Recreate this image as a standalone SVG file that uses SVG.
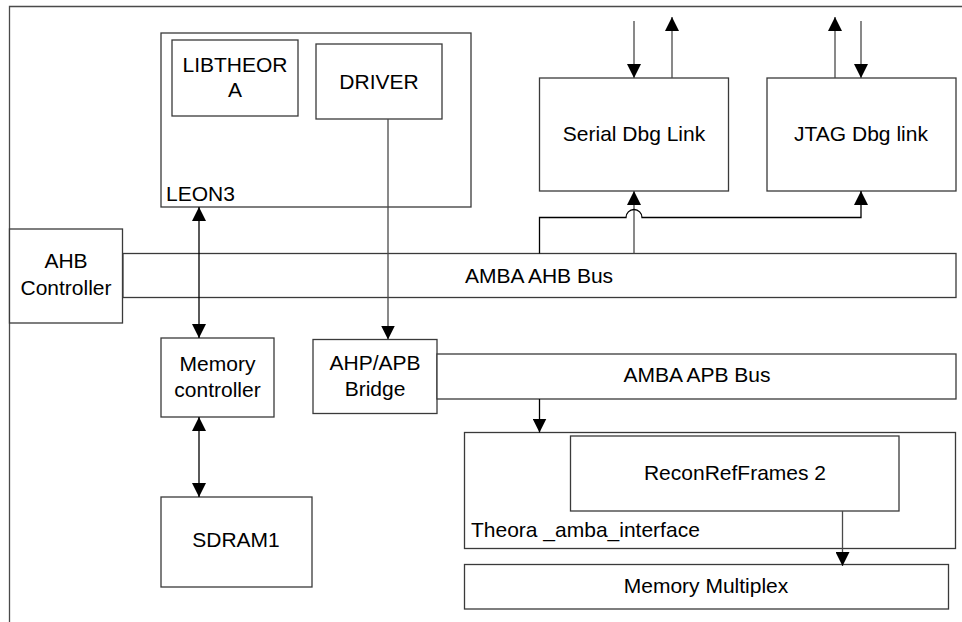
<svg xmlns="http://www.w3.org/2000/svg" width="962" height="622" viewBox="0 0 962 622">
<style>
.box{fill:#fff;stroke:#3a3a3a;stroke-width:1.3}
.t{font-family:"Liberation Sans",Arial,sans-serif;font-size:21px;fill:#000}
.c{text-anchor:middle}
.ln{fill:none;stroke:#000;stroke-width:1.3}
.lg{fill:none;stroke:#4a4a4a;stroke-width:1.3}
</style>
<defs>
<marker id="ah" markerUnits="userSpaceOnUse" markerWidth="14" markerHeight="14" refX="14" refY="7" orient="auto-start-reverse" viewBox="0 0 14 14">
<path d="M0,0 L14,7 L0,14 z" fill="#000"/>
</marker>
</defs>
<rect width="962" height="622" fill="#fff"/>
<g id="frame"><path class="lg" d="M9.5,622 V6.5 H962"/></g>

<g id="leon3">
<rect class="box" x="161" y="33" width="310" height="174"/>
<text class="t" x="166" y="201">LEON3</text>
</g>
<g id="libtheora">
<rect class="box" x="172" y="40" width="126" height="76"/>
<text class="t c" x="235" y="72">LIBTHEOR</text>
<text class="t c" x="235" y="97">A</text>
</g>
<g id="driver">
<rect class="box" x="316" y="44" width="126" height="75"/>
<text class="t c" x="379" y="89">DRIVER</text>
</g>
<g id="ahbctrl">
<rect class="box" x="9.5" y="229" width="113" height="94"/>
<text class="t c" x="66" y="268">AHB</text>
<text class="t c" x="66" y="295">Controller</text>
</g>
<g id="ahbbus">
<rect class="box" x="123" y="253.5" width="833" height="44"/>
<text class="t c" x="539" y="283">AMBA AHB Bus</text>
</g>
<g id="serial">
<rect class="box" x="539.5" y="78" width="189" height="113"/>
<text class="t c" x="634" y="141">Serial Dbg Link</text>
</g>
<g id="jtag">
<rect class="box" x="767" y="78" width="189" height="113"/>
<text class="t c" x="861" y="141">JTAG Dbg link</text>
</g>
<g id="memctrl">
<rect class="box" x="161" y="338" width="113" height="79"/>
<text class="t c" x="217.5" y="371">Memory</text>
<text class="t c" x="217.5" y="397">controller</text>
</g>
<g id="bridge">
<rect class="box" x="313" y="339.5" width="124" height="74"/>
<text class="t c" x="375" y="370">AHP/APB</text>
<text class="t c" x="375" y="396">Bridge</text>
</g>
<g id="apbbus">
<rect class="box" x="437" y="354" width="519" height="45"/>
<text class="t c" x="697" y="382">AMBA APB Bus</text>
</g>
<g id="sdram1">
<rect class="box" x="161" y="497" width="151" height="90"/>
<text class="t c" x="236" y="547">SDRAM1</text>
</g>
<g id="theora">
<rect class="box" x="464.5" y="432.5" width="491" height="116"/>
<text class="t" x="471" y="537">Theora _amba_interface</text>
</g>
<g id="reconref">
<rect class="box" x="570.5" y="436" width="328.5" height="75"/>
<text class="t c" x="735" y="480">ReconRefFrames 2</text>
</g>
<g id="memmux">
<rect class="box" x="464.5" y="564.5" width="484" height="44.5"/>
<text class="t c" x="706" y="593">Memory Multiplex</text>
</g>

<g id="connectors">
<path class="ln" d="M199,207 V338" marker-start="url(#ah)" marker-end="url(#ah)"/>
<path class="ln" d="M199,417 V497" marker-start="url(#ah)" marker-end="url(#ah)"/>
<path class="lg" d="M388,119 V339.5" marker-end="url(#ah)"/>
<path class="ln" d="M539.5,399 V432.5" marker-end="url(#ah)"/>
<path class="lg" d="M842.5,511 V566" marker-end="url(#ah)"/>
<path class="lg" d="M634,21 V78" marker-end="url(#ah)"/>
<path class="lg" d="M672,78 V17" marker-end="url(#ah)"/>
<path class="lg" d="M835,78 V17" marker-end="url(#ah)"/>
<path class="lg" d="M861,21 V78" marker-end="url(#ah)"/>
<path class="lg" d="M634,253.5 V191" marker-end="url(#ah)"/>
<path class="ln" d="M539.5,253.5 V217.5 H626 A8,8 0 0 1 642,217.5 H861 V191" marker-end="url(#ah)"/>
</g>
</svg>
